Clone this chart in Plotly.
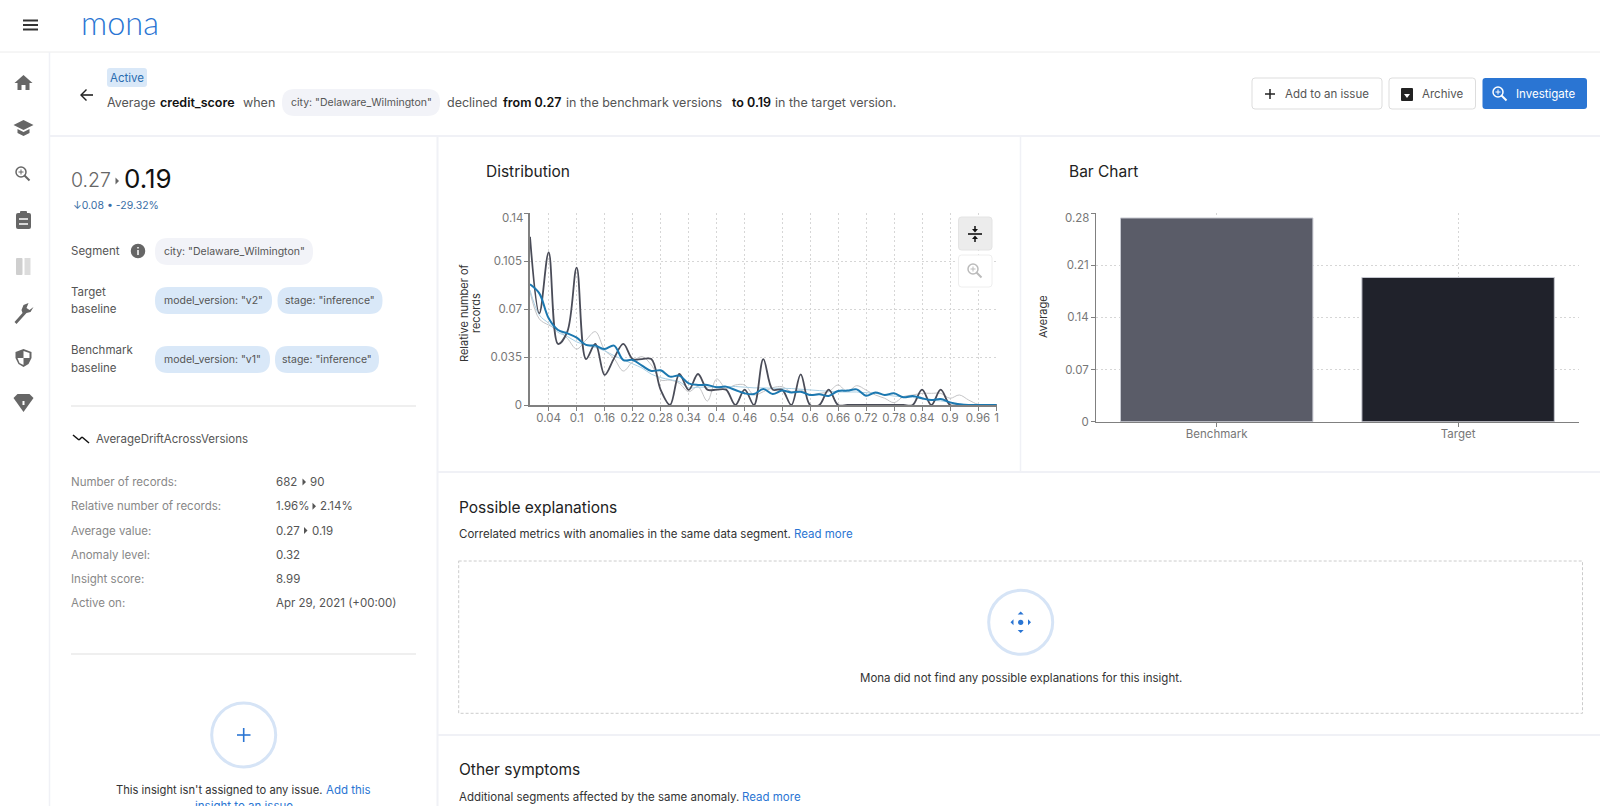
import plotly.graph_objects as go

W, H = 1600, 806
FONT = "Inter"

# distribution chart
bins = [round(i * 0.02, 2) for i in range(51)]
target_hist = [
    0.1227, 0.0668, 0.1113, 0.0445, 0.0535, 0.1001, 0.0335, 0.0445, 0.0219, 0.034,
    0.0445, 0.0335, 0.0335, 0.0335, 0.011, 0.0, 0.0226, 0.011, 0.0226, 0.0112,
    0.0112, 0.0112, 0.0, 0.0112, 0.0, 0.0335, 0.0112, 0.0112, 0.0, 0.0224,
    0.0, 0.0, 0.0112, 0.0, 0.0, 0.0, 0.0, 0.0, 0.0, 0.0,
    0.0, 0.0, 0.0112, 0.0, 0.0112, 0.0, 0.0, 0.0, 0.0, 0.0, 0.0,
]
benchmark_hist = [
    0.0826, 0.0627, 0.0583, 0.0547, 0.0486, 0.0408, 0.0474, 0.0535, 0.0401, 0.034,
    0.0248, 0.0316, 0.0352, 0.0292, 0.0182, 0.0182, 0.0158, 0.0097, 0.0134, 0.0029,
    0.019, 0.0122, 0.0146, 0.0146, 0.0073, 0.0097, 0.0126, 0.0134, 0.0097, 0.0109,
    0.0073, 0.0085, 0.0097, 0.0146, 0.0097, 0.0141, 0.0109, 0.0073, 0.0049, 0.0017,
    0.0061, 0.0073, 0.0085, 0.0085, 0.0085, 0.0049, 0.0073, 0.0036, 0.0005, 0.0, 0.0,
]
target_smooth = [
    0.088, 0.0814, 0.0632, 0.0547, 0.0523, 0.0491, 0.0438, 0.0433, 0.0408, 0.0433,
    0.0328, 0.0328, 0.0287, 0.0248, 0.0253, 0.0207, 0.0214, 0.0158, 0.0146, 0.0146,
    0.0129, 0.0134, 0.0109, 0.0085, 0.008, 0.0117, 0.008, 0.0105, 0.0092, 0.0097,
    0.0073, 0.0078, 0.0066, 0.0102, 0.0105, 0.0114, 0.0068, 0.0092, 0.0073, 0.0085,
    0.0056, 0.0066, 0.0049, 0.0036, 0.0044, 0.0019, 0.0005, 0.0, 0.0, 0.0, 0.0,
]
benchmark_smooth = [
    0.0839, 0.0656, 0.0596, 0.053, 0.05, 0.046, 0.0438, 0.042, 0.0395, 0.036,
    0.033, 0.03, 0.027, 0.0225, 0.02, 0.0185, 0.017, 0.0125, 0.013, 0.013,
    0.0135, 0.0135, 0.0135, 0.013, 0.0125, 0.0125, 0.0122, 0.0122, 0.012, 0.0115,
    0.011, 0.0105, 0.01, 0.0095, 0.0095, 0.0095, 0.009, 0.0085, 0.0075, 0.0065,
    0.006, 0.0055, 0.0045, 0.0035, 0.003, 0.002, 0.0008, 0.0003, 0.0, 0.0, 0.0,
]
dist_xticks = [0.04, 0.1, 0.16, 0.22, 0.28, 0.34, 0.4, 0.46, 0.54, 0.6, 0.66, 0.72, 0.78, 0.84, 0.9, 0.96, 1]
dist_xlabels = ["0.04", "0.1", "0.16", "0.22", "0.28", "0.34", "0.4", "0.46", "0.54", "0.6",
                "0.66", "0.72", "0.78", "0.84", "0.9", "0.96", "1"]
dist_yticks = [0, 0.035, 0.07, 0.105, 0.14]
dist_ylabels = ["0", "0.035", "0.07", "0.105", " "]

# bar chart
bar_names = ["Benchmark", "Target"]
bar_values = [0.2733, 0.1935]
bar_colors = ["#5a5c68", "#20222b"]
bar_yticks = [0, 0.07, 0.14, 0.21, 0.28]
bar_ylabels = ["0", "0.07", "0.14", "0.21", " "]

# text of the side panel
stat_names = ["Number of records:", "Relative number of records:", "Average value:",
              "Anomaly level:", "Insight score:", "Active on:"]
stat_values = ["682", "1.96%", "0.27", "0.32", "8.99", "Apr 29, 2021 (+00:00)"]

BLUE = "#2a75d3"
PILL_BLUE = "#d9e8f8"
PILL_GRAY = "#f2f3f8"
SEP = "#f0f1f6"
ICON = "#666666"

shapes = []
notes = []


def text(x, y, s, size=12, color="#555555", anchor="left", weight=400, family=FONT):
    notes.append(dict(x=x, y=y, xref="x", yref="y", text=s, showarrow=False, xanchor=anchor,
                      yanchor="middle", font=dict(size=size, color=color, family=family, weight=weight),
                      borderpad=0, borderwidth=0))


def line(x0, y0, x1, y1, color=SEP, width=1, dash=None):
    shapes.append(dict(type="line", x0=x0, y0=y0, x1=x1, y1=y1, xref="x", yref="y", layer="above",
                       line=dict(color=color, width=width, dash=dash)))


def rounded(x0, y0, x1, y1, r, fill, border=None, width=1):
    d = (f"M{x0+r},{y0} L{x1-r},{y0} Q{x1},{y0} {x1},{y0+r} L{x1},{y1-r} Q{x1},{y1} {x1-r},{y1} "
         f"L{x0+r},{y1} Q{x0},{y1} {x0},{y1-r} L{x0},{y0+r} Q{x0},{y0} {x0+r},{y0} Z")
    shapes.append(dict(type="path", path=d, xref="x", yref="y", layer="above", fillcolor=fill,
                       line=dict(color=border or fill, width=width if border else 0)))


def poly(cx, cy, pts, fill=ICON):
    d = "M" + " L".join(f"{cx+a},{cy+b}" for a, b in pts) + " Z"
    shapes.append(dict(type="path", path=d, xref="x", yref="y", layer="above", fillcolor=fill,
                       line=dict(width=0, color=fill)))


def circle(cx, cy, r, fill="rgba(0,0,0,0)", border=ICON, width=1.5):
    shapes.append(dict(type="circle", x0=cx-r, y0=cy-r, x1=cx+r, y1=cy+r, xref="x", yref="y", layer="above",
                       fillcolor=fill, line=dict(color=border, width=width)))


def magnifier(cx, cy, color=ICON, plus=True):
    circle(cx-1.5, cy-1.5, 5, border=color)
    line(cx+2, cy+2, cx+7, cy+7, color=color, width=2)
    if plus:
        line(cx-4, cy-1.5, cx+1, cy-1.5, color=color, width=1)
        line(cx-1.5, cy-4, cx-1.5, cy+1, color=color, width=1)


def tri(x, y, color="#555555"):
    poly(x, y, [(-1.5, -3.5), (2, 0), (-1.5, 3.5)], fill=color)


# page frame
line(0, 52, W, 52, color="#ececec", width=1)
line(49.5, 52, 49.5, H, width=1.5)
line(50, 136, W, 136, width=2)
line(437.5, 136, 437.5, H, width=2)
line(1020.5, 136, 1020.5, 472, width=1.5)
line(437, 472, W, 472, width=2)
line(437, 735, W, 735, width=2)

# top bar
for yy in (20.5, 25, 29.5):
    line(23, yy, 38, yy, color="#333333", width=2)
text(81, 22, "mona", size=32.5, color=BLUE, weight=300, family="Lato")

# sidebar icons
poly(23.5, 83, [(0, -8), (9, 0), (6, 0), (6, 7), (2, 7), (2, 2), (-2, 2), (-2, 7), (-6, 7), (-6, 0), (-9, 0)])
poly(23.5, 127, [(0, -7), (10, -2), (0, 3), (-10, -2)])
poly(23.5, 132, [(-6, -3), (0, 0), (6, -3), (6, 1), (0, 4), (-6, 1)])
magnifier(22.5, 173.5)
rounded(16, 213, 31, 229, 2, ICON)
rounded(20, 211, 27, 215, 1, ICON)
line(19, 219, 28, 219, color="white", width=1.5)
line(19, 224, 28, 224, color="white", width=1.5)
rounded(16, 258, 22.5, 275, 1, "#cfcfcf")
poly(24.5, 258, [(0, 0), (6, 0), (6, 17), (0, 17)], fill="#dcdcdc")
poly(23.5, 312, [(-9, 10), (-7, 12), (3, 1), (7, 0), (10, -5), (6, -2), (3, -4), (5, -9), (0, -7), (-2, -2), (-1, 1)])
poly(23.5, 358, [(0, -9), (8, -6), (8, 0), (5, 6), (0, 9), (-5, 6), (-8, 0), (-8, -6)])
poly(23.5, 358, [(0, -7), (6, -5), (6, 0), (0, 0)], fill="white")
poly(23.5, 358, [(0, 0), (-6, 0), (-4, 5), (0, 7)], fill="white")
poly(23.5, 403, [(-10, -5), (-6, -9), (6, -9), (10, -5), (0, 9)])
line(23.5, 401, 23.5, 405, color="white", width=2)

# header row
rounded(107, 68, 147, 87, 3, PILL_BLUE)
text(127, 78, "Active", size=11.5, color="#2a6cb0", anchor="center")
line(81, 95, 93, 95, color="#222222", width=1.6)
poly(80, 95, [(0, 0), (6, -6), (7, -5), (2, 0), (7, 5), (6, 6)], fill="#222222")
text(107, 102, "Average", size=12.5)
text(160, 102, "credit_score", size=12.5, color="#111111", weight=600)
text(243, 102, "when", size=12.5)
rounded(282, 89, 440, 116, 13, PILL_GRAY)
text(361, 102.5, 'city: "Delaware_Wilmington"', size=10.5, anchor="center")
text(446.5, 102, "declined", size=12.5)
text(503, 102, "from 0.27", size=12.5, color="#111111", weight=600)
text(565.5, 102, "in the benchmark versions", size=12.5)
text(731.5, 102, "to 0.19", size=12.5, color="#111111", weight=600)
text(775, 102, "in the target version.", size=12.5)

# buttons
rounded(1252, 78, 1382, 109, 3, "white", "#dddddd")
line(1265, 94, 1275, 94, color="#222222", width=1.5)
line(1270, 89, 1270, 99, color="#222222", width=1.5)
text(1285, 94, "Add to an issue", size=11.5)
rounded(1389, 78, 1475.5, 109, 3, "white", "#dddddd")
rounded(1401, 88, 1413, 101, 1, "#222222")
poly(1407, 95, [(-3, -1), (3, -1), (0, 3)], fill="white")
text(1422, 94, "Archive", size=11.5)
rounded(1482.5, 78, 1587, 109, 3, BLUE)
magnifier(1499.5, 93.5, color="white")
text(1515.5, 94, "Investigate", size=11.5, color="white")

# left panel
text(71, 180, "0.27", size=19.5, color="#666666", weight=300)
tri(117, 181, color="#666666")
text(124, 178, "0.19", size=26, color="#111111", weight=400)
text(73, 205, "↓0.08 • -29.32%", size=10.5, color="#3a6ea5")
text(71, 251, "Segment", size=11.5)
circle(138, 251, 6.5, fill=ICON)
line(138, 250, 138, 255, color="white", width=1.5)
line(138, 247, 138, 248.5, color="white", width=1.5)
rounded(155, 238, 313, 265, 13, PILL_GRAY)
text(234, 251.5, 'city: "Delaware_Wilmington"', size=10.5, anchor="center")
text(71, 292, "Target", size=11.5)
text(71, 309, "baseline", size=11.5)
rounded(155, 287, 272, 314, 13, PILL_BLUE)
text(213.5, 300.5, 'model_version: "v2"', size=10.5, anchor="center")
rounded(277.5, 287, 382.5, 314, 13, PILL_BLUE)
text(330, 300.5, 'stage: "inference"', size=10.5, anchor="center")
text(71, 350, "Benchmark", size=11.5)
text(71, 368, "baseline", size=11.5)
rounded(155, 346, 270, 373, 13, PILL_BLUE)
text(212.5, 359, 'model_version: "v1"', size=10.5, anchor="center")
rounded(275, 346, 379, 373, 13, PILL_BLUE)
text(327, 359, 'stage: "inference"', size=10.5, anchor="center")
line(71, 406, 416, 406, color="#dfdfdf", width=1)

for (x0, y0, x1, y1) in [(73, 435, 79, 440), (79, 440, 82, 437), (82, 437, 89, 443)]:
    line(x0, y0, x1, y1, color="#111111", width=1.5)
text(95.5, 439, "AverageDriftAcrossVersions", size=11.5)

stat_ys = [482, 506.3, 530.5, 554.7, 579, 603]
for name, value, yy in zip(stat_names, stat_values, stat_ys):
    text(71, yy, name, size=11.5, color="#888888")
    text(276, yy, value, size=11.5)
tri(304, 482)
text(310, 482, "90", size=11.5)
tri(314, 506.3)
text(320, 506.3, "2.14%", size=11.5)
tri(305.5, 530.5)
text(311.5, 530.5, "0.19", size=11.5)
line(71, 654, 416, 654, color="#dfdfdf", width=1)

circle(243.7, 735, 32, fill="white", border="#d6e4f6", width=3)
line(237, 735, 250.5, 735, color=BLUE, width=1.6)
line(243.7, 728, 243.7, 742, color=BLUE, width=1.6)
text(116, 790, "This insight isn't assigned to any issue.", size=11.2, color="#333333")
text(326, 790, "Add this", size=11.5, color=BLUE)
text(243.7, 805.9, "insight to an issue", size=11.5, color=BLUE, anchor="center")

# right side panels
text(486, 171, "Distribution", size=15.5, color="#222222")
text(1068.5, 171, "Bar Chart", size=15.5, color="#222222")
text(458.7, 507, "Possible explanations", size=15.5, color="#222222")
text(458.7, 534, "Correlated metrics with anomalies in the same data segment.", size=11.5, color="#333333")
text(793.5, 534, "Read more", size=11.5, color=BLUE)
shapes.append(dict(type="rect", x0=458.7, y0=561, x1=1582.5, y1=713.3, xref="x", yref="y", layer="above",
                   line=dict(color="#cccccc", width=1, dash="3px,2px")))
circle(1020.7, 622.3, 32, fill="white", border="#d6e4f6", width=3)
circle(1020.7, 622.3, 2.6, fill=BLUE, border=BLUE, width=0)
poly(1020.7, 613, [(-3, 1.5), (0, -1.5), (3, 1.5)], fill=BLUE)
poly(1020.7, 631.5, [(-3, -1.5), (0, 1.5), (3, -1.5)], fill=BLUE)
poly(1012, 622.3, [(1.5, -3), (-1.5, 0), (1.5, 3)], fill=BLUE)
poly(1029.5, 622.3, [(-1.5, -3), (1.5, 0), (-1.5, 3)], fill=BLUE)
text(1020.5, 677.7, "Mona did not find any possible explanations for this insight.", size=11.5,
     color="#333333", anchor="center")
text(458.7, 769.5, "Other symptoms", size=15.5, color="#222222")
text(458.7, 797, "Additional segments affected by the same anomaly.", size=11.5, color="#333333")
text(741.5, 797, "Read more", size=11.5, color=BLUE)

# buttons over the distribution chart
rounded(958.5, 217, 992, 250, 3, "#ececec", "#e4e4e4")
line(968, 234, 982, 234, color="#111111", width=1.6)
poly(975, 229, [(-3, 0), (3, 0), (0, 3.5)], fill="#111111")
line(975, 226, 975, 229, color="#111111", width=1.5)
poly(975, 239, [(-3, 0), (3, 0), (0, -3.5)], fill="#111111")
line(975, 239, 975, 242, color="#111111", width=1.5)
rounded(958.5, 255, 992, 287, 3, "white", "#eeeeee")
magnifier(974.5, 270.5, color="#bbbbbb")

# top tick labels sit a little under their gridline
text(522.7, 217.5, "0.14", size=11.5, color="#777777", anchor="right")
text(1088.7, 217.5, "0.28", size=11.5, color="#777777", anchor="right")

fig = go.Figure()
series = [
    (benchmark_hist, "#c4c4c6", 1),
    (benchmark_smooth, "#a9cfe4", 1),
    (target_hist, "#4a4c58", 1.8),
    (target_smooth, "#1c78b0", 2),
]
for values, color, width in series:
    fig.add_trace(go.Scatter(x=bins, y=values, mode="lines", xaxis="x2", yaxis="y2", showlegend=False,
                             line=dict(color=color, width=width, shape="spline", smoothing=1)))
fig.add_trace(go.Bar(x=bar_names, y=bar_values, xaxis="x3", yaxis="y3", width=0.797, showlegend=False,
                     marker=dict(color=bar_colors, line=dict(color="#c6c8d0", width=1))))

axis_style = dict(showline=True, linecolor="#808080", ticks="outside", ticklen=4, tickcolor="#808080",
                  showgrid=True, gridcolor="#d6d6d6", griddash="2px,2.5px", gridwidth=1, zeroline=False,
                  tickmode="array", tickfont=dict(size=11.5, color="#777777", family=FONT))


def dom_x(a, b):
    return [a / W, b / W]


def dom_y(top, bottom):
    return [1 - bottom / H, 1 - top / H]


text(464, 313, "Relative number of", size=11, color="#333333", anchor="center")
notes[-1]["textangle"] = -90
text(476, 313, "records", size=11, color="#333333", anchor="center")
notes[-1]["textangle"] = -90
text(1043, 317, "Average", size=11, color="#333333", anchor="center")
notes[-1]["textangle"] = -90

fig.update_layout(
    width=W,
    height=H,
    margin=dict(l=0, r=0, t=0, b=0, autoexpand=False),
    paper_bgcolor="white",
    plot_bgcolor="rgba(0,0,0,0)",
    font=dict(family=FONT),
    shapes=shapes,
    annotations=notes,
    bargap=0.2,
    xaxis=dict(domain=[0, 1], range=[0, W], visible=False, fixedrange=True),
    yaxis=dict(domain=[0, 1], range=[H, 0], visible=False, fixedrange=True),
    xaxis2=dict(domain=dom_x(530, 996.7), range=[0, 1], anchor="y2", tickvals=dist_xticks, ticktext=dist_xlabels,
                ticklabelstandoff=-3, linewidth=1.5, **axis_style),
    yaxis2=dict(domain=dom_y(213, 405), range=[0, 0.14], anchor="x2", tickvals=dist_yticks, ticktext=dist_ylabels,
                linewidth=1.5, **axis_style),
    xaxis3=dict(domain=dom_x(1096, 1578.8), range=[-0.5, 1.5], anchor="y3", type="category",
                ticklabelstandoff=-3, linewidth=1, **axis_style),
    yaxis3=dict(domain=dom_y(213, 421.7), range=[0, 0.28], anchor="x3", tickvals=bar_yticks, ticktext=bar_ylabels,
                linewidth=1, **axis_style),
)

fig.write_html("out.html", config=dict(displayModeBar=False),
               post_script="document.body.style.margin='0';document.body.style.overflow='hidden';")
